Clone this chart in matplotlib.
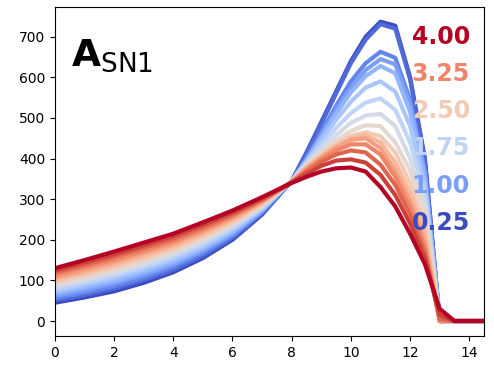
import numpy as np
import matplotlib
matplotlib.use("Agg")
import matplotlib.pyplot as plt
from matplotlib.colors import Normalize

# x grid shared by all curves
x = [0, 1, 2, 3, 4, 5, 6, 7, 8, 8.5, 9, 9.5, 10, 10.5, 11, 11.5, 12, 12.5, 13, 13.5, 14, 14.5]

# one curve per parameter value (0.25 ... 4.00)
y_025 = [45, 58, 73, 94, 120, 155, 200, 262, 345, 415, 490, 565, 640, 700, 737, 727, 600, 400, 0, 0, 0, 0]
y_050 = [51, 64, 80, 101, 126, 161, 205, 265, 345, 412, 485, 560, 635, 693, 731, 720, 595, 395, 0, 0, 0, 0]
y_075 = [56, 70, 86, 107, 133, 167, 210, 268, 345, 400, 465, 530, 590, 635, 663, 648, 545, 370, 0, 0, 0, 0]
y_100 = [62, 76, 93, 114, 139, 173, 214, 271, 345, 398, 458, 520, 575, 618, 645, 632, 535, 365, 0, 0, 0, 0]
y_125 = [68, 83, 99, 120, 145, 178, 219, 273, 345, 395, 452, 510, 563, 603, 628, 610, 515, 350, 0, 0, 0, 0]
y_150 = [73, 89, 106, 127, 152, 184, 224, 276, 345, 392, 443, 495, 540, 575, 590, 565, 480, 330, 0, 0, 0, 0]
y_175 = [79, 95, 112, 134, 158, 190, 229, 279, 345, 388, 432, 475, 512, 538, 548, 520, 440, 310, 0, 0, 0, 0]
y_200 = [85, 101, 119, 140, 164, 196, 234, 282, 344, 385, 423, 458, 488, 506, 510, 480, 400, 290, 0, 0, 0, 0]
y_225 = [90, 107, 125, 147, 171, 202, 238, 285, 344, 382, 415, 445, 468, 482, 480, 440, 370, 270, 0, 0, 0, 0]
y_250 = [96, 113, 132, 153, 177, 208, 243, 288, 343, 380, 410, 437, 456, 465, 455, 415, 340, 240, 0, 0, 0, 0]
y_275 = [102, 119, 138, 160, 183, 214, 248, 291, 343, 378, 405, 430, 450, 458, 440, 390, 315, 215, 0, 0, 0, 0]
y_300 = [107, 125, 145, 167, 190, 220, 253, 294, 342, 376, 402, 428, 446, 450, 425, 370, 295, 195, 0, 0, 0, 0]
y_325 = [113, 132, 151, 173, 196, 225, 258, 296, 342, 372, 398, 420, 435, 435, 410, 355, 280, 180, 0, 0, 0, 0]
y_350 = [119, 138, 158, 180, 202, 231, 262, 299, 341, 368, 392, 410, 420, 415, 385, 335, 262, 168, 5, 0, 0, 0]
y_375 = [124, 144, 164, 186, 209, 237, 267, 302, 341, 362, 382, 395, 398, 390, 360, 310, 240, 155, 15, 0, 0, 0]
y_400 = [130, 150, 171, 193, 215, 243, 272, 305, 340, 355, 368, 376, 378, 368, 330, 282, 215, 140, 30, 0, 0, 0]

params = [0.25, 0.50, 0.75, 1.00, 1.25, 1.50, 1.75, 2.00,
          2.25, 2.50, 2.75, 3.00, 3.25, 3.50, 3.75, 4.00]
curves = [y_025, y_050, y_075, y_100, y_125, y_150, y_175, y_200,
          y_225, y_250, y_275, y_300, y_325, y_350, y_375, y_400]

# labels shown at the right, top to bottom
label_params = [4.00, 3.25, 2.50, 1.75, 1.00, 0.25]

cmap = plt.get_cmap("coolwarm")
norm = Normalize(vmin=min(params), vmax=max(params))

fig = plt.figure(figsize=(4.94, 3.65), dpi=100)
ax = fig.add_axes([0.111, 0.0795, 0.869, 0.902])

for p, y in zip(params, curves):
    ax.plot(x, y, color=cmap(norm(p)), lw=3)

ax.set_xlim(0, 14.5)
ax.set_xticks(np.arange(0, 15, 2))
ax.set_yticks(np.arange(0, 800, 100))

# parameter labels stacked at the right
for k, p in enumerate(label_params):
    ax.text(0.967, 0.909 - k * 0.113, "{:.2f}".format(p), transform=ax.transAxes,
            ha="right", va="center", fontsize=17, fontweight="bold",
            color=cmap(norm(p)))

ax.text(0.037, 0.82, r"$\mathbf{A}_{\mathrm{SN1}}$", transform=ax.transAxes,
        fontsize=27, ha="left", va="baseline")

fig.savefig("out.png", dpi=100)
